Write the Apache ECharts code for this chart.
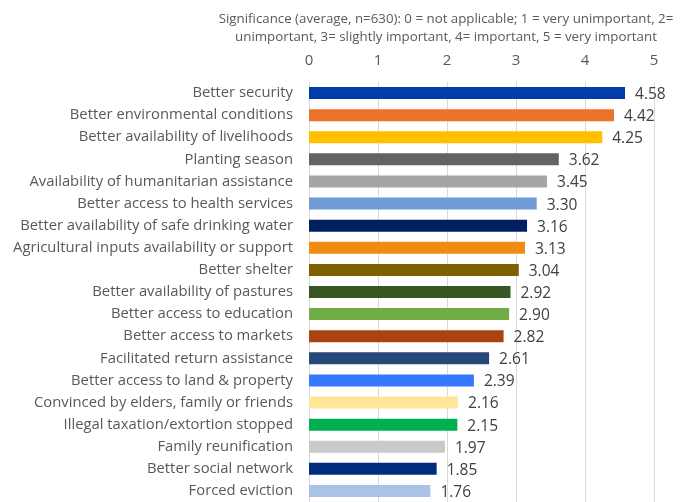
<!DOCTYPE html>
<html><head><meta charset="utf-8">
<script src="https://cdn.jsdelivr.net/npm/echarts@6/dist/echarts.min.js"></script>
<style>html,body{margin:0;padding:0;background:#fff}#c{width:689px;height:502px}</style>
</head><body><div id="c"></div>
<script>
const categories = [
  "Better security",
  "Better environmental conditions",
  "Better availability of livelihoods",
  "Planting season",
  "Availability of humanitarian assistance",
  "Better access to health services",
  "Better availability of safe drinking water",
  "Agricultural inputs availability or support",
  "Better shelter",
  "Better availability of pastures",
  "Better access to education",
  "Better access to markets",
  "Facilitated return assistance",
  "Better access to land & property",
  "Convinced by elders, family or friends",
  "Illegal taxation/extortion stopped",
  "Family reunification",
  "Better social network",
  "Forced eviction"
];
const values = [4.58, 4.42, 4.25, 3.62, 3.45, 3.30, 3.16, 3.13, 3.04, 2.92, 2.90, 2.82, 2.61, 2.39, 2.16, 2.15, 1.97, 1.85, 1.76];
const colors = ["#003DA6", "#ED7229", "#FFC000", "#636363", "#A5A5A5", "#6F9BD7", "#002060", "#EF8C13", "#7F6000", "#375623", "#70AD47", "#A9430F", "#254879", "#3579FF", "#FFE699", "#00B050", "#C9C9C9", "#002C7E", "#A9C3E7"];
const xTicks = [0, 1, 2, 3, 4, 5];
const axisTitle = "Significance (average, n=630): 0 = not applicable; 1 = very unimportant, 2=\nunimportant, 3= slightly important, 4= important, 5 = very important";

const FONT = "Open Sans";
const chart = echarts.init(document.getElementById('c'), null, {renderer: 'canvas'});
chart.setOption({
  animation: false,
  title: {
    text: axisTitle,
    left: 441, top: 5,
    textAlign: 'center',
    textStyle: {fontFamily: FONT, fontSize: 13.3, fontWeight: 'normal', color: '#595959', lineHeight: 18, align: 'center'}
  },
  grid: {left: 309, right: 35, top: 82, bottom: -2, containLabel: false},
  xAxis: {
    type: 'value', position: 'top', min: xTicks[0], max: xTicks[xTicks.length - 1], interval: 1,
    axisLine: {show: false}, axisTick: {show: false},
    axisLabel: {fontFamily: FONT, fontSize: 15, color: '#595959', margin: 14,
      formatter: v => xTicks.includes(v) ? String(v) : ''},
    splitLine: {show: true, lineStyle: {color: '#D9D9D9', width: 1}}
  },
  yAxis: {
    type: 'category', inverse: true, data: categories,
    axisLine: {show: false}, axisTick: {show: false},
    axisLabel: {fontFamily: FONT, fontSize: 14.8, color: '#595959', margin: 16}
  },
  series: [{
    type: 'bar',
    data: values.map((v, i) => ({value: v, itemStyle: {color: colors[i]}})),
    barWidth: 12,
    label: {show: true, position: 'right', distance: 10, offset: [0, 1.5], fontFamily: FONT, fontSize: 15.5, color: '#404040',
      formatter: p => p.value.toFixed(2)}
  }]
});
</script></body></html>
